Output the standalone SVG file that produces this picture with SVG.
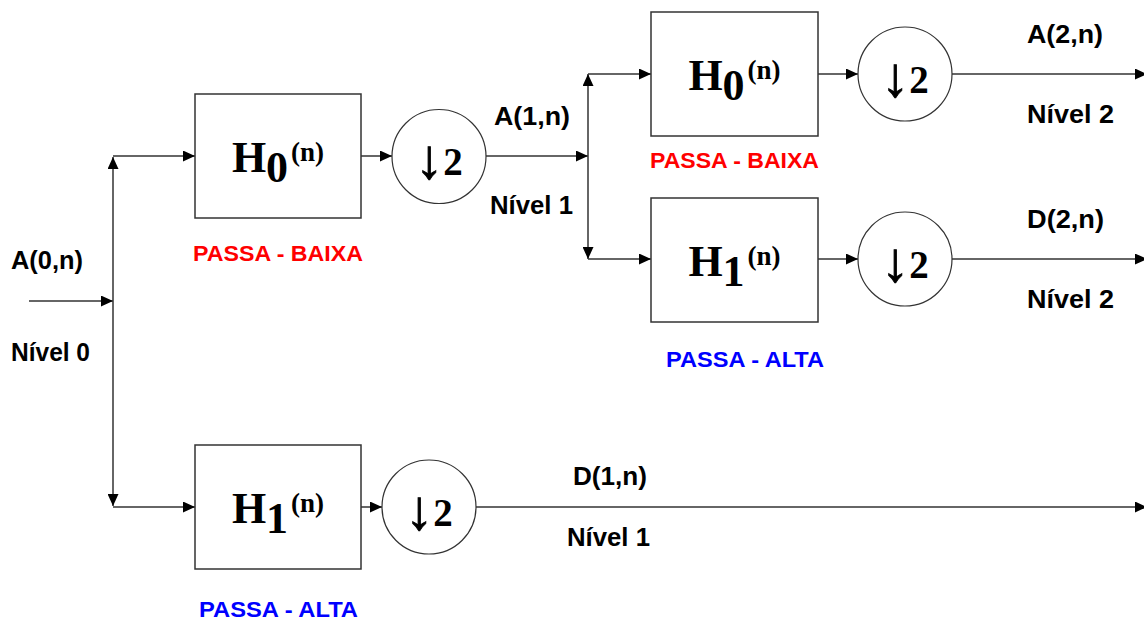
<svg xmlns="http://www.w3.org/2000/svg" width="1144" height="621" viewBox="0 0 1144 621">
<defs>
<marker id="ah" markerUnits="userSpaceOnUse" markerWidth="13" markerHeight="11" refX="12" refY="5.5" orient="auto">
<path d="M0,0 L12,5.5 L0,11 z" fill="#000"/>
</marker>
<style>
.box{fill:#fff;stroke:#333;stroke-width:1.5}
.ds{fill:#fff;stroke:#333;stroke-width:1.2}
.ln{fill:none;stroke:#333;stroke-width:1.5}
.arr{marker-end:url(#ah)}
.lbl{font-family:"Liberation Sans",Arial,sans-serif;font-weight:bold;font-size:25px;fill:#000}
.lp{font-family:"Liberation Sans",Arial,sans-serif;font-weight:bold;font-size:22px}
.red{fill:#ff0000}
.blue{fill:#0000ff}
.h{font-family:"Liberation Serif","Times New Roman",serif;font-weight:bold;font-size:44px;text-anchor:middle;fill:#000}
.hs{font-size:27px}
.d2{font-family:"Liberation Serif","Times New Roman",serif;font-weight:bold;font-size:39px;text-anchor:middle;fill:#000}
.dar{font-size:56px;stroke:#000;stroke-width:0.9}
</style>
</defs>
<rect width="1144" height="621" fill="#fff"/>

<g id="connectors">
<line class="ln arr" x1="29" y1="301" x2="113" y2="301"/>
<line class="ln arr" x1="113" y1="301" x2="113" y2="157"/>
<line class="ln arr" x1="113" y1="301" x2="113" y2="506"/>
<line class="ln arr" x1="113" y1="156" x2="195" y2="156"/>
<line class="ln arr" x1="113" y1="507" x2="195" y2="507"/>
<line class="ln arr" x1="361" y1="156" x2="392" y2="156"/>
<line class="ln arr" x1="486" y1="156" x2="588" y2="156"/>
<line class="ln arr" x1="588" y1="156" x2="588" y2="74"/>
<line class="ln arr" x1="588" y1="156" x2="588" y2="259"/>
<line class="ln arr" x1="588" y1="74" x2="651" y2="74"/>
<line class="ln arr" x1="588" y1="259" x2="651" y2="259"/>
<line class="ln arr" x1="818" y1="74" x2="858" y2="74"/>
<line class="ln arr" x1="818" y1="259" x2="858" y2="259"/>
<line class="ln arr" x1="952" y1="74" x2="1147" y2="74"/>
<line class="ln arr" x1="952" y1="259" x2="1147" y2="259"/>
<line class="ln arr" x1="361" y1="507" x2="382" y2="507"/>
<line class="ln arr" x1="476" y1="507" x2="1147" y2="507"/>
</g>

<g id="H0_L1">
<rect class="box" x="195" y="94" width="166" height="124"/>
<text class="h" x="278" y="172">H<tspan dy="10">0</tspan><tspan class="hs" dx="3" dy="-21">(n)</tspan></text>
</g>
<g id="DS_A1">
<circle class="ds" cx="439" cy="156.5" r="47"/>
<text class="d2" x="439" y="175"><tspan class="dar" dy="3">↓</tspan><tspan dy="-3">2</tspan></text>
</g>

<g id="H1_L1">
<rect class="box" x="195" y="445" width="166" height="124"/>
<text class="h" x="278" y="523">H<tspan dy="10">1</tspan><tspan class="hs" dx="3" dy="-21">(n)</tspan></text>
</g>
<g id="DS_D1">
<circle class="ds" cx="429" cy="507" r="47"/>
<text class="d2" x="429" y="526"><tspan class="dar" dy="3">↓</tspan><tspan dy="-3">2</tspan></text>
</g>

<g id="H0_L2">
<rect class="box" x="651" y="12" width="167" height="124"/>
<text class="h" x="734.5" y="90">H<tspan dy="10">0</tspan><tspan class="hs" dx="3" dy="-21">(n)</tspan></text>
</g>
<g id="DS_A2">
<circle class="ds" cx="905" cy="74" r="47"/>
<text class="d2" x="905" y="93"><tspan class="dar" dy="3">↓</tspan><tspan dy="-3">2</tspan></text>
</g>

<g id="H1_L2">
<rect class="box" x="651" y="198" width="167" height="124"/>
<text class="h" x="734.5" y="276">H<tspan dy="10">1</tspan><tspan class="hs" dx="3" dy="-21">(n)</tspan></text>
</g>
<g id="DS_D2">
<circle class="ds" cx="905" cy="259" r="47"/>
<text class="d2" x="905" y="278"><tspan class="dar" dy="3">↓</tspan><tspan dy="-3">2</tspan></text>
</g>

<g id="labels">
<text class="lbl" x="11" y="269" textLength="72" lengthAdjust="spacingAndGlyphs">A(0,n)</text>
<text class="lbl" x="11" y="361" textLength="79" lengthAdjust="spacingAndGlyphs">Nível 0</text>
<text class="lbl" x="494" y="125" textLength="76" lengthAdjust="spacingAndGlyphs">A(1,n)</text>
<text class="lbl" x="490" y="214" textLength="83" lengthAdjust="spacingAndGlyphs">Nível 1</text>
<text class="lbl" x="1027" y="43" textLength="76" lengthAdjust="spacingAndGlyphs">A(2,n)</text>
<text class="lbl" x="1027" y="123" textLength="87" lengthAdjust="spacingAndGlyphs">Nível 2</text>
<text class="lbl" x="1027" y="228" textLength="77" lengthAdjust="spacingAndGlyphs">D(2,n)</text>
<text class="lbl" x="1027" y="308" textLength="87" lengthAdjust="spacingAndGlyphs">Nível 2</text>
<text class="lbl" x="573" y="485" textLength="74" lengthAdjust="spacingAndGlyphs">D(1,n)</text>
<text class="lbl" x="567" y="546" textLength="83" lengthAdjust="spacingAndGlyphs">Nível 1</text>
<text class="lp red" x="193" y="261" textLength="170" lengthAdjust="spacingAndGlyphs">PASSA - BAIXA</text>
<text class="lp red" x="650" y="168" textLength="169" lengthAdjust="spacingAndGlyphs">PASSA - BAIXA</text>
<text class="lp blue" x="666" y="367" textLength="158" lengthAdjust="spacingAndGlyphs">PASSA - ALTA</text>
<text class="lp blue" x="199" y="617" textLength="159" lengthAdjust="spacingAndGlyphs">PASSA - ALTA</text>
</g>
</svg>
